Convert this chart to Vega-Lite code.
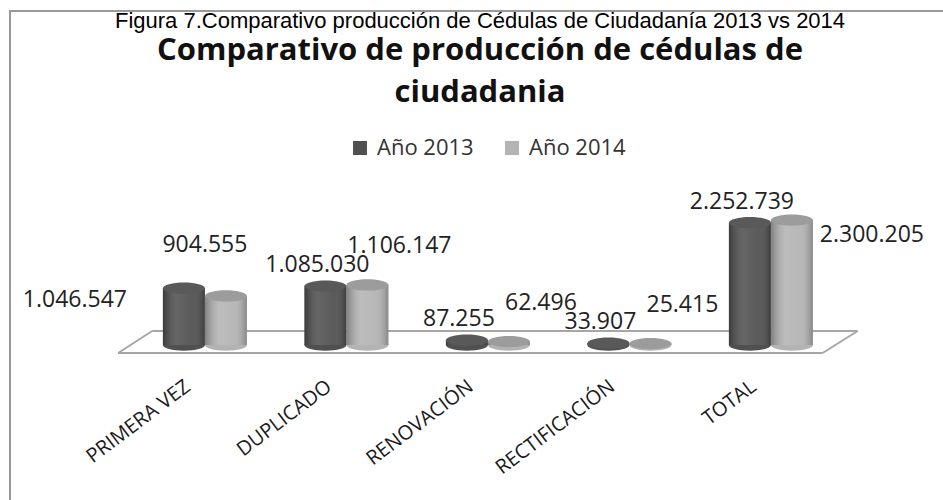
{
  "$schema": "https://vega.github.io/schema/vega-lite/v6.json",
  "width": 940,
  "height": 495,
  "autosize": {"type": "none"},
  "padding": {"left": 10, "top": 11, "right": 0, "bottom": 0},
  "background": "white",
  "config": {
    "locale": {"number": {"decimal": ",", "thousands": ".", "grouping": [3], "currency": ["$", ""]}},
    "view": {"stroke": "#999999", "strokeWidth": 2},
    "font": "Open Sans"
  },
  "title": {
    "text": "Figura 7.Comparativo producción de Cédulas de  Ciudadanía  2013 vs  2014",
    "subtitle": ["Comparativo de producción de cédulas de", "ciudadania"],
    "anchor": "middle",
    "frame": "group",
    "font": "Liberation Sans",
    "fontSize": 22,
    "fontWeight": "normal",
    "color": "#000000",
    "subtitleFont": "Open Sans",
    "subtitleFontSize": 31,
    "subtitleFontWeight": "bold",
    "subtitleColor": "#111111",
    "subtitleLineHeight": 42,
    "subtitlePadding": 3,
    "offset": -98
  },
  "data": {
    "values": [
      {"categoria": "PRIMERA VEZ", "anio": "Año 2013", "valor": 1046547},
      {"categoria": "PRIMERA VEZ", "anio": "Año 2014", "valor": 904555},
      {"categoria": "DUPLICADO", "anio": "Año 2013", "valor": 1085030},
      {"categoria": "DUPLICADO", "anio": "Año 2014", "valor": 1106147},
      {"categoria": "RENOVACIÓN", "anio": "Año 2013", "valor": 87255},
      {"categoria": "RENOVACIÓN", "anio": "Año 2014", "valor": 62496},
      {"categoria": "RECTIFICACIÓN", "anio": "Año 2013", "valor": 33907},
      {"categoria": "RECTIFICACIÓN", "anio": "Año 2014", "valor": 25415},
      {"categoria": "TOTAL", "anio": "Año 2013", "valor": 2252739},
      {"categoria": "TOTAL", "anio": "Año 2014", "valor": 2300205}
    ]
  },
  "layer": [
    {
      "data": {"values": [{}]},
      "mark": {"type": "rule", "color": "#a6a6a6", "strokeWidth": 2, "xOffset": -16, "x2Offset": -19},
      "encoding": {
        "x": {"datum": "PRIMERA VEZ", "type": "nominal", "bandPosition": 0},
        "x2": {"datum": "TOTAL", "bandPosition": 1},
        "y": {"datum": -147000, "type": "quantitative", "axis": null}
      }
    },
    {
      "data": {"values": [{}]},
      "mark": {"type": "rule", "color": "#a6a6a6", "strokeWidth": 2, "xOffset": 18, "x2Offset": 16},
      "encoding": {
        "x": {"datum": "PRIMERA VEZ", "type": "nominal", "bandPosition": 0},
        "x2": {"datum": "TOTAL", "bandPosition": 1},
        "y": {"datum": 258000, "type": "quantitative", "axis": null}
      }
    },
    {
      "data": {"values": [{}]},
      "mark": {"type": "rule", "color": "#a6a6a6", "strokeWidth": 2, "xOffset": -16, "x2Offset": 18},
      "encoding": {
        "x": {"datum": "PRIMERA VEZ", "type": "nominal", "bandPosition": 0},
        "x2": {"datum": "PRIMERA VEZ", "bandPosition": 0},
        "y": {"datum": -147000, "type": "quantitative", "axis": null},
        "y2": {"datum": 258000}
      }
    },
    {
      "data": {"values": [{}]},
      "mark": {"type": "rule", "color": "#a6a6a6", "strokeWidth": 2, "xOffset": -19, "x2Offset": 16},
      "encoding": {
        "x": {"datum": "TOTAL", "type": "nominal", "bandPosition": 1},
        "x2": {"datum": "TOTAL", "bandPosition": 1},
        "y": {"datum": -147000, "type": "quantitative", "axis": null},
        "y2": {"datum": 258000}
      }
    },
    {
      "mark": {"type": "point", "shape": "M-1,0A1,0.27,0,1,1,1,0A1,0.27,0,1,1,-1,0Z", "size": 1764, "filled": true, "opacity": 1, "strokeWidth": 0},
      "encoding": {
        "x": {"field": "categoria", "type": "nominal"},
        "xOffset": {"field": "anio", "type": "nominal"},
        "y": {"datum": 0, "type": "quantitative", "axis": null},
        "color": {"field": "anio", "type": "nominal"}
      }
    },
    {
      "mark": {"type": "bar"},
      "encoding": {
        "x": {
          "field": "categoria",
          "type": "nominal",
          "sort": null,
          "scale": {"domain": ["PRIMERA VEZ", "DUPLICADO", "RENOVACIÓN", "RECTIFICACIÓN", "TOTAL"], "paddingInner": 0, "paddingOuter": 0.8216, "align": 0.534},
          "axis": {"title": null, "orient": "bottom", "offset": -150, "domain": false, "ticks": false, "labelAngle": -37, "labelAlign": "right", "labelBaseline": "middle", "labelPadding": 28, "labelOffset": -17, "labelFont": "Open Sans", "labelFontSize": 20, "labelColor": "#1a1a1a"}
        },
        "xOffset": {"field": "anio", "type": "nominal", "scale": {"paddingInner": 0, "paddingOuter": 0.6845}},
        "y": {"field": "valor", "type": "quantitative", "scale": {"domain": [-2965000, 6151000], "nice": false, "zero": false}, "axis": null},
        "y2": {"datum": 0},
        "color": {
          "field": "anio",
          "type": "nominal",
          "scale": {"range": ["#505050", "#b3b3b3"]},
          "legend": {"orient": "none", "legendX": 339, "legendY": 126, "direction": "horizontal", "title": null, "symbolType": "square", "symbolSize": 196, "symbolStrokeWidth": 0, "labelFont": "Open Sans", "labelFontSize": 22, "labelColor": "#333333", "columnPadding": 27, "labelOffset": 6, "padding": 0}
        }
      }
    },
    {
      "mark": {
        "type": "bar",
        "fill": {
          "gradient": "linear", "x1": 0, "x2": 1, "y1": 0, "y2": 0,
          "stops": [
            {"offset": 0, "color": "rgba(0,0,0,0.28)"},
            {"offset": 0.35, "color": "rgba(255,255,255,0.12)"},
            {"offset": 0.7, "color": "rgba(255,255,255,0.06)"},
            {"offset": 1, "color": "rgba(0,0,0,0.25)"}
          ]
        }
      },
      "encoding": {
        "x": {"field": "categoria", "type": "nominal"},
        "xOffset": {"field": "anio", "type": "nominal"},
        "y": {"field": "valor", "type": "quantitative", "axis": null},
        "y2": {"datum": 0}
      }
    },
    {
      "mark": {"type": "point", "shape": "M-1,0A1,0.27,0,1,1,1,0A1,0.27,0,1,1,-1,0Z", "size": 1764, "filled": true, "opacity": 1, "strokeWidth": 0},
      "encoding": {
        "x": {"field": "categoria", "type": "nominal"},
        "xOffset": {"field": "anio", "type": "nominal"},
        "y": {"field": "valor", "type": "quantitative", "axis": null},
        "fill": {"field": "anio", "type": "nominal", "scale": {"range": ["#595959", "#9c9c9c"]}, "legend": null}
      }
    },
    {
      "transform": [{"filter": "datum.anio == 'Año 2013' && datum.categoria != 'PRIMERA VEZ'"}],
      "mark": {"type": "text", "font": "Open Sans", "fontSize": 23, "color": "#222222", "align": "center", "baseline": "middle", "dx": -8, "dy": -21},
      "encoding": {
        "x": {"field": "categoria", "type": "nominal"},
        "xOffset": {"field": "anio", "type": "nominal"},
        "y": {"field": "valor", "type": "quantitative", "axis": null},
        "text": {"field": "valor", "type": "quantitative", "format": ",d"}
      }
    },
    {
      "transform": [{"filter": "datum.anio == 'Año 2013' && datum.categoria == 'PRIMERA VEZ'"}],
      "mark": {"type": "text", "font": "Open Sans", "fontSize": 23, "color": "#222222", "align": "center", "baseline": "middle", "dx": -109, "dy": 12},
      "encoding": {
        "x": {"field": "categoria", "type": "nominal"},
        "xOffset": {"field": "anio", "type": "nominal"},
        "y": {"field": "valor", "type": "quantitative", "axis": null},
        "text": {"field": "valor", "type": "quantitative", "format": ",d"}
      }
    },
    {
      "transform": [{"filter": "datum.anio == 'Año 2014' && datum.categoria != 'PRIMERA VEZ' && datum.categoria != 'TOTAL'"}],
      "mark": {"type": "text", "font": "Open Sans", "fontSize": 23, "color": "#222222", "align": "center", "baseline": "middle", "dx": 32, "dy": -39},
      "encoding": {
        "x": {"field": "categoria", "type": "nominal"},
        "xOffset": {"field": "anio", "type": "nominal"},
        "y": {"field": "valor", "type": "quantitative", "axis": null},
        "text": {"field": "valor", "type": "quantitative", "format": ",d"}
      }
    },
    {
      "transform": [{"filter": "datum.anio == 'Año 2014' && datum.categoria == 'PRIMERA VEZ'"}],
      "mark": {"type": "text", "font": "Open Sans", "fontSize": 23, "color": "#222222", "align": "center", "baseline": "middle", "dx": -21, "dy": -51},
      "encoding": {
        "x": {"field": "categoria", "type": "nominal"},
        "xOffset": {"field": "anio", "type": "nominal"},
        "y": {"field": "valor", "type": "quantitative", "axis": null},
        "text": {"field": "valor", "type": "quantitative", "format": ",d"}
      }
    },
    {
      "transform": [{"filter": "datum.anio == 'Año 2014' && datum.categoria == 'TOTAL'"}],
      "mark": {"type": "text", "font": "Open Sans", "fontSize": 23, "color": "#222222", "align": "center", "baseline": "middle", "dx": 80, "dy": 15},
      "encoding": {
        "x": {"field": "categoria", "type": "nominal"},
        "xOffset": {"field": "anio", "type": "nominal"},
        "y": {"field": "valor", "type": "quantitative", "axis": null},
        "text": {"field": "valor", "type": "quantitative", "format": ",d"}
      }
    }
  ]
}
